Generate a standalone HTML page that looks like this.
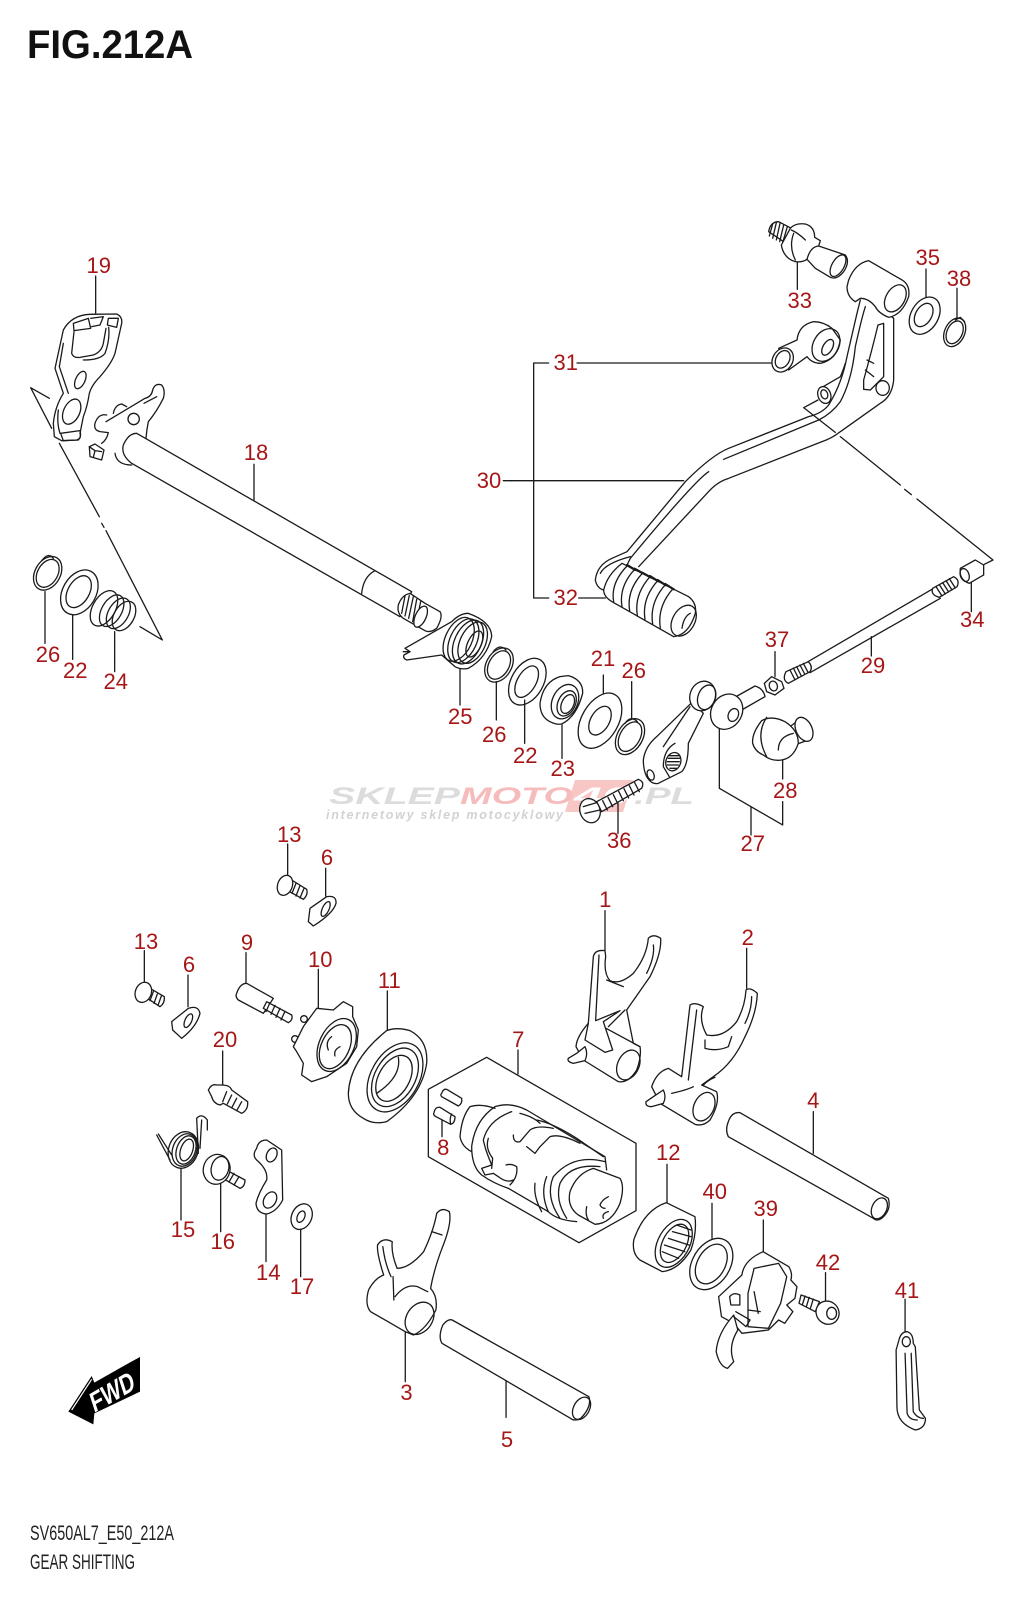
<!DOCTYPE html>
<html><head><meta charset="utf-8"><title>FIG.212A Gear Shifting</title>
<style>
html,body{margin:0;padding:0;background:#fff}
svg{display:block}
.d *{fill:none;stroke:#1a1a1a;stroke-width:1.3;vector-effect:non-scaling-stroke;stroke-linejoin:round;stroke-linecap:round}
.d .w{fill:#fff}
.l{font-family:"Liberation Sans",sans-serif;font-size:22px;fill:#a61616;text-anchor:middle}
</style></head><body>
<svg width="1024" height="1600" viewBox="0 0 1024 1600" xmlns="http://www.w3.org/2000/svg">
<rect width="1024" height="1600" fill="#fff"/>
<!-- watermark -->
<g font-family="Liberation Sans,sans-serif" font-weight="bold" font-style="italic">
<polygon points="575,780 633,780 623,812 565,812" fill="#f9c6c6"/>
<text x="329" y="804" font-size="24" fill="#dcdcdc" textLength="131" lengthAdjust="spacingAndGlyphs">SKLEP</text>
<text x="460" y="804" font-size="24" fill="#f6bcbc" textLength="113" lengthAdjust="spacingAndGlyphs">MOTO</text>
<text x="574" y="804" font-size="24" fill="#fff" textLength="56" lengthAdjust="spacingAndGlyphs">40</text>
<text x="634" y="804" font-size="24" fill="#dcdcdc" textLength="60" lengthAdjust="spacingAndGlyphs">.PL</text>
<text x="326" y="819" font-size="12.5" fill="#d2d2d2" textLength="237">internetowy sklep motocyklowy</text>
</g>
<g class="d">
<!-- Z1 -->
<g transform="translate(0,220) scale(.33333)">
<path d="M148 535L92 503L155 625M178 670L298 890M305 910L312 922M318 932L487 1260L420 1220"/>
<path class="w" d="M190 330Q215 285 270 283L350 282Q368 290 365 310L345 400Q335 430 300 470Q275 495 268 520Q262 560 250 590L240 640Q245 655 230 660L185 662L163 650L160 610Q165 560 190 520L165 445Z"/>
<path d="M222 335L215 400Q220 415 240 412L280 405Q305 395 310 370L318 325M326 322Q330 360 315 400Q300 420 250 420M190 370L178 440L205 520M175 570Q170 610 180 640"/>
<ellipse cx="241" cy="480" rx="14" ry="28" transform="rotate(25 241 480)"/>
<ellipse cx="215" cy="575" rx="24" ry="40" transform="rotate(25 215 575)"/>
<path class="w" d="M220 310L265 295L272 325L222 332Z"/>
<path d="M272 295L310 290L300 315L275 320M325 295L355 295L350 322L322 315ZM182 640L240 632Q245 650 235 660L190 662Z"/>
<path d="M318 605L435 535Q455 530 458 510Q465 488 485 495Q497 510 490 535Q470 575 445 605Q440 630 438 655M340 580Q345 555 365 552L380 560M432 550L470 530"/>
<circle cx="401" cy="597" r="17"/>
<path d="M320 585Q295 580 285 610Q280 630 300 635L325 638Q320 660 305 670M345 700Q350 735 395 735"/>
<path class="w" d="M268 680L285 672L312 690L305 720L270 710Z"/>
<path d="M285 692L268 680M285 692L305 695M285 692L280 712"/>
<path class="w" d="M410 640Q385 640 370 675Q362 705 395 730L1200 1190L1235 1115Z"/>
<path d="M1125 1052Q1090 1070 1085 1120"/>
<path class="w" d="M1275 1150L1320 1175Q1330 1190 1310 1225Q1290 1240 1275 1232L1210 1195Q1190 1180 1195 1155Q1205 1125 1230 1120Z"/>
<path d="M1215 1128L1205 1180M1228 1126L1215 1188M1240 1130L1226 1195M1250 1138L1238 1205M1262 1145L1248 1212"/>
<ellipse class="w" cx="1262" cy="1190" rx="16" ry="34" transform="rotate(25 1262 1190)"/>
<ellipse cx="143" cy="1060" rx="38" ry="54" transform="rotate(30 143 1060)"/>
<ellipse cx="143" cy="1060" rx="30" ry="45" transform="rotate(30 143 1060)"/>
<path d="M125 1022Q145 995 160 1015"/>
<ellipse cx="238" cy="1117" rx="50" ry="72" transform="rotate(30 238 1117)"/>
<ellipse cx="236" cy="1115" rx="32" ry="52" transform="rotate(30 236 1115)"/>
<ellipse cx="312" cy="1165" rx="34" ry="58" transform="rotate(30 312 1165)"/>
<ellipse cx="335" cy="1172" rx="30" ry="52" transform="rotate(30 335 1172)"/>
<ellipse cx="355" cy="1180" rx="30" ry="50" transform="rotate(30 355 1180)"/>
<ellipse cx="372" cy="1188" rx="30" ry="48" transform="rotate(30 372 1188)"/>
<path d="M287 168V280M762 733V840M135 1115V1270M218 1185V1318M344 1235V1355"/>
<path d="M1510 782H1536"/>
</g>
<!-- Z2 -->
<g transform="translate(512,200) scale(.33333)">
<path d="M110 489H65V1194H110M195 489H785M200 1194H280M-2 842H515"/>
<path d="M856 185V268M1242 207V292M1335 265V355M1378 1130V1235M1078 1310V1368"/>
<path d="M918 600L875 623L970 697M985 710L1165 855M1178 868L1198 884M1215 897L1443 1080L1417 1093"/>
<!-- stud 33 -->
<path class="w" d="M770 95Q775 65 800 65L838 85L815 125Z"/>
<path d="M782 72L772 108M793 68L782 115M804 70L793 120M815 75L803 125M826 80L812 128"/>
<path class="w" d="M835 85Q850 68 880 72Q908 80 908 112L925 122L920 138L1000 165Q1015 185 995 215Q975 240 955 232L910 205L885 178Q870 188 850 185Q815 175 808 135Z"/>
<path d="M845 100Q830 140 850 180M920 138Q895 140 885 178M838 90Q860 100 880 120"/>
<ellipse cx="978" cy="197" rx="18" ry="36" transform="rotate(30 978 197)"/>
<!-- banjo 31 -->
<path class="w" d="M855 420Q860 375 905 365Q935 365 960 385L985 420Q975 480 925 490Q900 490 885 470L830 510L800 445Z"/>
<ellipse class="w" cx="812" cy="480" rx="30" ry="38" transform="rotate(30 812 480)"/>
<ellipse cx="812" cy="478" rx="20" ry="28" transform="rotate(30 812 478)"/>
<ellipse cx="942" cy="435" rx="38" ry="52" transform="rotate(30 942 435)"/>
<ellipse cx="947" cy="442" rx="14" ry="26" transform="rotate(30 947 442)"/>
<!-- lever -->
<path d="M1045 300L1035 340L1005 470Q990 550 950 615Q930 640 890 650L650 745Q600 765 520 845L345 1055L300 1075Q255 1095 250 1140Q255 1165 275 1170"/>
<path d="M1085 310L1145 355V540Q1140 590 1105 610L985 695Q960 715 930 725L650 835Q615 845 585 880L380 1100"/>
<path d="M1060 320Q1050 350 1030 440Q1020 540 985 605Q960 640 920 660L635 778M590 815Q550 840 355 1075L345 1095M265 1120Q280 1090 355 1070"/>
<path class="w" d="M1115 370L1098 375Q1080 450 1055 540V568L1075 570L1115 530Z"/>
<ellipse class="w" cx="1112" cy="564" rx="20" ry="22"/>
<path d="M1065 480L1085 490M1060 510L1085 530M1000 490Q990 520 985 530L925 565"/>
<ellipse class="w" cx="937" cy="585" rx="19" ry="26" transform="rotate(-20 937 585)"/>
<ellipse cx="937" cy="583" rx="10" ry="14" transform="rotate(-20 937 583)"/>
<path class="w" d="M1010 240Q1030 190 1070 182L1170 240Q1195 255 1190 290Q1170 345 1130 352Q1100 340 1090 320Q1070 295 1045 295L1030 305Q1005 290 1005 260Z"/>
<ellipse cx="1150" cy="295" rx="28" ry="44" transform="rotate(30 1150 295)"/>
<!-- peg -->
<path class="w" d="M275 1170Q285 1125 330 1090L530 1190Q555 1210 550 1240Q530 1305 485 1310L300 1205Q275 1190 275 1170Z"/>
<path d="M345 1098Q295 1150 305 1205M368 1108Q320 1160 330 1220M391 1120Q343 1172 353 1232M414 1130Q366 1184 376 1246M437 1142Q389 1196 399 1258M460 1154Q412 1208 422 1272M483 1166Q435 1220 445 1284"/>
<path d="M345 1095L370 1110M368 1106L393 1120M391 1118L416 1132M414 1128L439 1144M437 1140L462 1156M460 1152L485 1168" style="stroke-width:2.2"/>
<ellipse cx="515" cy="1262" rx="33" ry="50" transform="rotate(30 515 1262)"/>
<path d="M510 1285Q515 1250 535 1240"/>
<!-- washers -->
<ellipse cx="1238" cy="347" rx="41" ry="60" transform="rotate(30 1238 347)"/>
<ellipse cx="1235" cy="345" rx="24" ry="38" transform="rotate(30 1235 345)"/>
<ellipse cx="1328" cy="397" rx="30" ry="45" transform="rotate(25 1328 397)"/>
<ellipse cx="1328" cy="397" rx="23" ry="36" transform="rotate(25 1328 397)"/>
<path d="M1330 360L1345 352L1358 365"/>
<!-- collar 34 -->
<path class="w" d="M1345 1105L1390 1080L1415 1095V1125L1372 1150Q1340 1140 1345 1105Z"/>
<ellipse cx="1358" cy="1125" rx="13" ry="20" transform="rotate(-20 1358 1125)"/>
<!-- rod 29 -->
<path d="M888 1385L1265 1165M894 1418L1285 1195"/>
<path class="w" d="M1262 1165L1325 1130Q1345 1140 1335 1160L1282 1192Q1255 1185 1262 1165Z"/>
<path d="M1272 1160L1290 1188M1282 1154L1300 1182M1292 1148L1310 1176M1302 1142L1320 1170M1312 1136L1330 1164"/>
</g>
<!-- Z3 -->
<g transform="translate(380,580) scale(.33333)">
<path d="M240 265V375M349 305V420M434 360V490M546 435V535M670 285V340M755 305V415M1185 215V290M1208 540V597M1018 440V625L1208 735V665M1113 680V765M714 670V760"/>
<path class="w" d="M75 205L215 125Q240 100 265 100Q335 125 335 170Q320 235 265 265Q245 270 225 260L185 225L80 240Q68 235 72 225L90 215Z"/>
<path d="M70 215L90 215"/>
<ellipse cx="236" cy="178" rx="40" ry="70" transform="rotate(25 236 178)"/>
<ellipse cx="250" cy="182" rx="40" ry="70" transform="rotate(25 250 182)"/>
<ellipse cx="264" cy="186" rx="40" ry="70" transform="rotate(25 264 186)"/>
<ellipse cx="278" cy="188" rx="38" ry="66" transform="rotate(25 278 188)"/>
<ellipse cx="283" cy="192" rx="20" ry="42" transform="rotate(25 283 192)"/>
<ellipse cx="357" cy="255" rx="38" ry="55" transform="rotate(30 357 255)"/>
<ellipse cx="357" cy="255" rx="30" ry="46" transform="rotate(30 357 255)"/>
<path d="M340 215Q358 190 378 210"/>
<ellipse cx="442" cy="305" rx="48" ry="76" transform="rotate(30 442 305)"/>
<ellipse cx="440" cy="305" rx="28" ry="52" transform="rotate(30 440 305)"/>
<path d="M480 370Q490 305 540 290L565 287Q610 300 608 340Q590 410 545 432Q530 435 510 425Q480 410 480 370Z"/>
<ellipse cx="555" cy="365" rx="38" ry="54" transform="rotate(25 555 365)"/>
<ellipse cx="560" cy="370" rx="26" ry="40" transform="rotate(25 560 370)"/>
<ellipse cx="563" cy="372" rx="18" ry="30" transform="rotate(25 563 372)"/>
<ellipse cx="660" cy="422" rx="55" ry="90" transform="rotate(30 660 422)"/>
<ellipse cx="660" cy="422" rx="28" ry="47" transform="rotate(30 660 422)"/>
<ellipse cx="750" cy="470" rx="38" ry="58" transform="rotate(30 750 470)"/>
<ellipse cx="750" cy="470" rx="30" ry="48" transform="rotate(30 750 470)"/>
<path d="M735 430Q752 405 772 425"/>
<!-- lever 27 -->
<path class="w" d="M790 540Q795 500 830 470L935 368Q950 380 970 400L925 490Q925 555 905 575L835 610Q815 615 800 590Q790 570 790 540Z"/>
<path d="M930 380L850 500M885 490Q850 510 850 560L868 590"/>
<ellipse cx="812" cy="585" rx="10" ry="16" transform="rotate(-20 812 585)"/>
<ellipse class="w" cx="880" cy="545" rx="22" ry="28" transform="rotate(20 880 545)"/>
<path d="M865 535H900M862 545H898M862 555H895M868 527H898M870 565H890"/>
<ellipse class="w" cx="968" cy="348" rx="38" ry="45" transform="rotate(20 968 348)"/>
<ellipse cx="980" cy="352" rx="26" ry="38" transform="rotate(20 980 352)"/>
<path class="w" d="M1050 360L1125 318Q1150 325 1155 350L1085 390Z"/>
<ellipse class="w" cx="1040" cy="395" rx="46" ry="55" transform="rotate(30 1040 395)"/>
<ellipse cx="1060" cy="405" rx="15" ry="20" transform="rotate(25 1060 405)"/>
<path class="w" d="M1153 310L1175 290L1205 305L1212 325L1185 345L1160 335Z"/>
<ellipse cx="1180" cy="318" rx="12" ry="15" transform="rotate(-20 1180 318)"/>
<path class="w" d="M1218 275L1285 245Q1300 260 1290 275L1225 310Q1205 300 1218 275Z"/>
<path d="M1230 270L1244 298M1240 264L1254 292M1250 260L1264 288M1260 255L1274 282M1270 250L1284 277"/>
<!-- ball 28 -->
<path class="w" d="M1230 440L1250 425L1285 480L1252 492Z"/>
<ellipse class="w" cx="1272" cy="448" rx="24" ry="38" transform="rotate(-25 1272 448)"/>
<path class="w" d="M1145 422Q1115 460 1118 490Q1125 515 1150 525Q1175 545 1205 540Q1240 535 1255 490Q1255 450 1215 425Q1175 405 1145 422Z"/>
<path d="M1160 412Q1125 465 1160 530M1195 510Q1195 470 1240 460"/>
<!-- bolt 36 -->
<path class="w" d="M650 665L775 598Q795 605 785 625L665 695Z"/>
<path d="M668 662L682 690M684 652L698 680M700 644L714 672M716 634L730 662M732 626L746 654M748 617L762 645M764 608L778 635"/>
<ellipse class="w" cx="630" cy="692" rx="30" ry="37" transform="rotate(-20 630 692)"/>
<path d="M610 680L650 668M615 700L660 690"/>
</g>
<!-- Z4 -->
<g transform="translate(100,820) scale(.33333)">
<path d="M563 72V165M677 145V228M133 392V487M264 465V560M438 398V488M655 448V565M862 513V632M368 693V795M243 1045V1200M362 1090V1235M498 1182V1325M602 1228V1370"/>
<path class="w" d="M575 180L620 208Q625 225 610 238L560 210Z"/>
<path d="M575 185L565 212M588 190L576 220M600 197L588 228M612 205L600 234"/>
<ellipse class="w" cx="555" cy="196" rx="22" ry="31" transform="rotate(20 555 196)"/>
<path d="M630 265L680 230Q710 225 708 250Q700 280 640 318L625 305Z"/>
<ellipse cx="677" cy="267" rx="10" ry="24" transform="rotate(25 677 267)"/>
<path class="w" d="M150 505L193 530Q195 550 180 560L135 530Z"/>
<path d="M148 510L138 535M160 515L150 542M172 522L162 550M184 528L174 556"/>
<ellipse class="w" cx="130" cy="517" rx="24" ry="31" transform="rotate(20 130 517)"/>
<path d="M215 605L265 565Q295 555 300 580Q290 620 245 655L218 630Z"/>
<ellipse cx="265" cy="602" rx="10" ry="22" transform="rotate(25 265 602)"/>
<path d="M410 520Q420 490 440 490L520 535L490 580L415 540Q405 530 410 520Z"/>
<path class="w" d="M500 545L575 585Q580 600 565 608L490 565Z"/>
<path d="M510 548L498 575M525 556L513 583M540 565L528 592M555 574L543 600"/>
<circle class="w" cx="612" cy="597" r="10"/><circle class="w" cx="585" cy="657" r="10"/>
<path class="w" d="M580 680L610 620L650 565L700 570L730 545L758 560V590L775 630L770 680L740 730L680 770L635 785L605 765L610 730L590 695Z"/>
<ellipse cx="710" cy="675" rx="52" ry="84" transform="rotate(25 710 675)"/>
<ellipse cx="706" cy="680" rx="42" ry="70" transform="rotate(25 706 680)"/>
<path d="M695 650Q675 665 685 690M720 680Q700 690 705 708"/>
<path class="w" d="M745 820Q750 720 860 632Q890 620 930 632Q985 660 980 730Q965 830 860 905Q820 915 790 895Q745 870 745 820Z"/>
<ellipse cx="885" cy="772" rx="72" ry="112" transform="rotate(30 885 772)"/>
<ellipse cx="885" cy="772" rx="60" ry="95" transform="rotate(30 885 772)"/>
<ellipse cx="882" cy="775" rx="46" ry="75" transform="rotate(30 882 775)"/>
<path d="M895 712Q905 770 830 820"/>
<path class="w" d="M325 810Q335 790 350 795H365Q390 795 395 810L443 845Q445 870 425 880L370 850L360 855Q340 850 335 830Z"/>
<path d="M380 815L368 845M395 825L382 852M410 835L396 862M425 845L410 872"/>
<ellipse cx="250" cy="990" rx="44" ry="56" transform="rotate(20 250 990)"/>
<ellipse cx="254" cy="990" rx="36" ry="50" transform="rotate(20 254 990)"/>
<ellipse cx="258" cy="990" rx="28" ry="44" transform="rotate(20 258 990)"/>
<ellipse cx="260" cy="990" rx="18" ry="34" transform="rotate(20 260 990)"/>
<path d="M170 945L210 1020M175 942L215 1005M295 1000L290 895Q305 878 322 900V930M305 900L300 985"/>
<path class="w" d="M360 1040L435 1080Q435 1100 420 1105L360 1070Z"/>
<path d="M372 1040L360 1068M387 1050L372 1078M402 1060L387 1086M417 1070L402 1095"/>
<ellipse class="w" cx="350" cy="1048" rx="40" ry="45" transform="rotate(15 350 1048)"/>
<ellipse cx="360" cy="1045" rx="26" ry="36" transform="rotate(15 360 1045)"/>
<path class="w" d="M470 985Q475 960 500 960L545 990L548 1140Q530 1175 500 1182Q470 1180 468 1150Q475 1120 500 1080Q505 1050 470 1020Q455 1005 470 985Z"/>
<ellipse cx="515" cy="1005" rx="15" ry="22" transform="rotate(25 515 1005)"/>
<ellipse cx="510" cy="1140" rx="18" ry="26" transform="rotate(30 510 1140)"/>
<ellipse cx="605" cy="1190" rx="30" ry="40" transform="rotate(25 605 1190)"/>
<ellipse cx="603" cy="1190" rx="11" ry="18" transform="rotate(25 603 1190)"/>
</g>
<!-- Z5 -->
<g transform="translate(420,890) scale(.33333)">
<path d="M555 62V180M980 175V295M294 480V552M1180 665V790M66 690V740M741 823V938M876 940V1045M1030 990V1085"/>
<path d="M200 502L648 760V962L477 1058L25 800V598Z"/>
<path d="M65 610Q70 595 80 598L125 625Q128 640 115 648L65 620Q60 615 65 610ZM42 668Q45 650 60 652L105 680Q105 700 92 703L48 680Q38 675 42 668Z"/>
<path d="M95 672Q88 685 92 703"/>
<path d="M150 650Q125 680 120 740Q125 770 155 785M150 650Q180 640 225 655"/>
<path d="M225 650Q270 635 320 660L555 800L560 840M265 895L385 965Q410 990 470 995M225 650Q165 690 155 770Q155 830 185 855Q220 880 265 895"/>
<path d="M275 665Q205 690 190 750Q195 775 205 800L215 825L185 835L195 855L220 850L235 860Q260 880 280 870M205 745Q195 775 218 805L215 835M258 825Q275 820 290 830Q295 860 270 885"/>
<path d="M280 735Q280 760 300 755L330 720Q350 705 400 715M320 770L345 790L360 770L390 740Q420 730 480 760M300 670Q340 680 360 700M350 690Q400 700 470 745L550 800"/>
<path class="w" d="M450 905Q470 850 520 835L600 865Q615 890 600 940Q575 1000 525 1003L475 975Q440 950 450 905Z"/>
<path d="M555 815Q460 790 400 860Q375 920 420 985M540 830Q450 820 420 880Q405 930 440 985M345 880Q340 920 365 965M380 860Q360 910 385 965M500 950Q495 975 505 990"/>
<path d="M565 920Q545 930 540 945Q545 955 555 955M565 965Q545 970 550 985"/>
<!-- fork 1 -->
<path class="w" d="M520 200Q525 178 555 182L557 200Q550 250 570 272Q600 285 640 250Q680 200 685 145Q700 130 722 145Q725 190 690 260L620 360L640 460L660 470Q665 500 650 540Q625 580 595 575L490 510L468 470Q470 440 505 400Z"/>
<path d="M527 392L600 362L550 395L578 480L555 487L495 450L505 400M565 410L615 360M558 415L660 470M537 195L527 390M560 270L610 290M700 165Q705 200 680 250"/>
<ellipse cx="625" cy="525" rx="32" ry="47" transform="rotate(25 625 525)"/>
<path class="w" d="M445 505L470 490L495 470Q505 490 495 512L460 520Q440 515 445 505Z"/>
<!-- fork 2 -->
<path class="w" d="M810 345Q825 335 850 350Q835 390 860 435Q910 445 950 395Q975 350 978 300Q990 290 1012 310Q1010 370 975 440Q940 520 880 560L845 585L890 605Q900 640 870 690Q850 710 825 703L720 640L695 590Q710 545 745 535L785 560Z"/>
<path d="M830 360L805 570M755 610Q800 600 820 590M855 450V475Q890 485 925 470L935 440M850 585Q865 570 885 562M995 320Q995 360 975 400"/>
<ellipse cx="852" cy="650" rx="30" ry="45" transform="rotate(25 852 650)"/>
<path class="w" d="M678 635L700 620L730 600Q740 620 730 640L695 650Q675 650 678 635Z"/>
<!-- rod 4 -->
<path class="w" d="M960 668L1405 925Q1415 960 1385 985Q1370 995 1360 985L925 740Q915 720 925 695Q935 665 960 668Z"/>
<ellipse cx="1378" cy="955" rx="22" ry="33" transform="rotate(25 1378 955)"/>
</g>
<!-- Z6 -->
<g transform="translate(340,1180) scale(.408,.33333)">
<path d="M160 455V605M407 600V712M1190 278V360M1385 358V455"/>
<path class="w" d="M237 100Q250 80 268 95Q275 130 250 205Q230 270 222 325Q240 350 235 390Q210 450 180 465L160 455L75 395Q60 375 70 330Q85 295 107 285Q90 220 92 195Q105 170 128 185Q125 220 140 265Q170 265 205 215Q230 150 237 100Z"/>
<path d="M130 290L132 360M135 350Q160 310 190 320L215 335M225 155L250 165M105 200Q110 250 125 290"/>
<ellipse cx="195" cy="415" rx="33" ry="50" transform="rotate(20 195 415)"/>
<path class="w" d="M275 420L610 650Q618 680 590 715Q575 725 565 715L250 490Q240 470 252 435Q265 415 275 420Z"/>
<ellipse cx="592" cy="685" rx="20" ry="35" transform="rotate(20 592 685)"/>
<path class="w" d="M800 68L870 110Q875 160 860 210Q830 270 790 275L735 240Q715 220 720 180Q745 90 800 68Z"/>
<ellipse cx="818" cy="190" rx="40" ry="75" transform="rotate(20 818 190)"/>
<ellipse cx="820" cy="190" rx="30" ry="60" transform="rotate(20 820 190)"/>
<path d="M790 215L830 235M795 195L845 215M805 175L855 195M815 155L860 170M825 135L860 150"/>
<ellipse cx="910" cy="252" rx="48" ry="80" transform="rotate(20 910 252)"/>
<ellipse cx="910" cy="252" rx="35" ry="62" transform="rotate(20 910 252)"/>
<path class="w" d="M1037 215L1100 260Q1110 280 1105 300L1120 320L1115 355L1095 375L1110 395L1090 430L1075 420L1050 450L985 460L965 430L935 410L928 350L985 285Q990 240 1037 215Z"/>
<path d="M1015 265L1075 250L1095 290L1080 370L1050 445L1000 440L1000 340ZM955 350Q965 335 980 345V375H958Z"/>
<path class="w" d="M965 405Q925 460 922 515Q930 560 950 565L965 545Q950 500 975 450Z"/>
<path d="M970 395L1005 420L995 440L965 410M1015 335L1025 400M1000 390L1030 395"/>
<path class="w" d="M1130 345L1175 365L1165 395L1125 370Z"/>
<path d="M1140 348L1133 375M1150 352L1143 380M1160 357L1153 385"/>
<ellipse class="w" cx="1195" cy="398" rx="28" ry="35" transform="rotate(-10 1195 398)"/>
<ellipse cx="1205" cy="400" rx="12" ry="18"/>
<path d="M1370 480Q1375 455 1390 455Q1405 460 1405 490L1410 500L1420 690L1435 715Q1435 745 1410 750Q1365 730 1365 680L1363 510Z"/>
<ellipse cx="1388" cy="485" rx="10" ry="15"/>
<path d="M1385 520L1390 700Q1395 720 1415 720M1400 520L1405 695Q1415 715 1430 715"/>
</g>
</g>
<!-- FWD -->
<g transform="translate(0,1340) scale(.33333)">
<path d="M205 215L275 108L283 128L420 50V155L283 220L280 253Z" fill="#000"/>
<path d="M215 210L275 118M283 122L418 50" stroke="#fff" stroke-width="1.2" fill="none" vector-effect="non-scaling-stroke"/>
</g>
<text transform="translate(94,1413) rotate(-30) skewX(-12)" font-family="Liberation Sans,sans-serif" font-weight="bold" font-size="27" fill="#fff" textLength="49" lengthAdjust="spacingAndGlyphs">FWD</text>
<!-- Title / footer -->
<text x="27" y="58" font-family="Liberation Sans,sans-serif" font-weight="bold" font-size="40" fill="#111" textLength="166" lengthAdjust="spacingAndGlyphs">FIG.212A</text>
<text x="30" y="1540" font-family="Liberation Sans,sans-serif" font-size="21" fill="#222" textLength="144" lengthAdjust="spacingAndGlyphs">SV650AL7_E50_212A</text>
<text x="30" y="1569" font-family="Liberation Sans,sans-serif" font-size="21" fill="#222" textLength="105" lengthAdjust="spacingAndGlyphs">GEAR SHIFTING</text>
<!-- Labels -->
<g class="l">
<text x="98.7" y="273">19</text><text x="256" y="460">18</text><text x="48" y="662">26</text><text x="75.3" y="678">22</text><text x="115.7" y="689">24</text><text x="489" y="488">30</text>
<text x="799.7" y="308">33</text><text x="927.7" y="265">35</text><text x="959" y="286">38</text><text x="565.7" y="370">31</text><text x="565.7" y="605">32</text><text x="972.3" y="627">34</text><text x="777" y="647">37</text><text x="873" y="673">29</text>
<text x="460.3" y="724">25</text><text x="494.3" y="742">26</text><text x="525.3" y="763">22</text><text x="562.7" y="776">23</text><text x="603" y="666">21</text><text x="633.7" y="678">26</text><text x="619.3" y="848">36</text><text x="752.7" y="851">27</text><text x="785.3" y="798">28</text>
<text x="289.3" y="842">13</text><text x="327" y="865">6</text><text x="146" y="949">13</text><text x="189" y="972">6</text><text x="247" y="950">9</text><text x="320.3" y="967">10</text><text x="389.3" y="988">11</text><text x="225" y="1047">20</text><text x="443.3" y="1155">8</text><text x="183" y="1237">15</text><text x="222.7" y="1249">16</text><text x="268.3" y="1280">14</text><text x="302" y="1294">17</text>
<text x="605.3" y="907">1</text><text x="747.7" y="945">2</text><text x="518.3" y="1047">7</text><text x="813.3" y="1108">4</text><text x="668.3" y="1160">12</text><text x="714.7" y="1199">40</text><text x="765.7" y="1216">39</text>
<text x="406.5" y="1400">3</text><text x="507" y="1447">5</text><text x="828" y="1270">42</text><text x="907" y="1298">41</text>
</g>
</svg>
</body></html>
